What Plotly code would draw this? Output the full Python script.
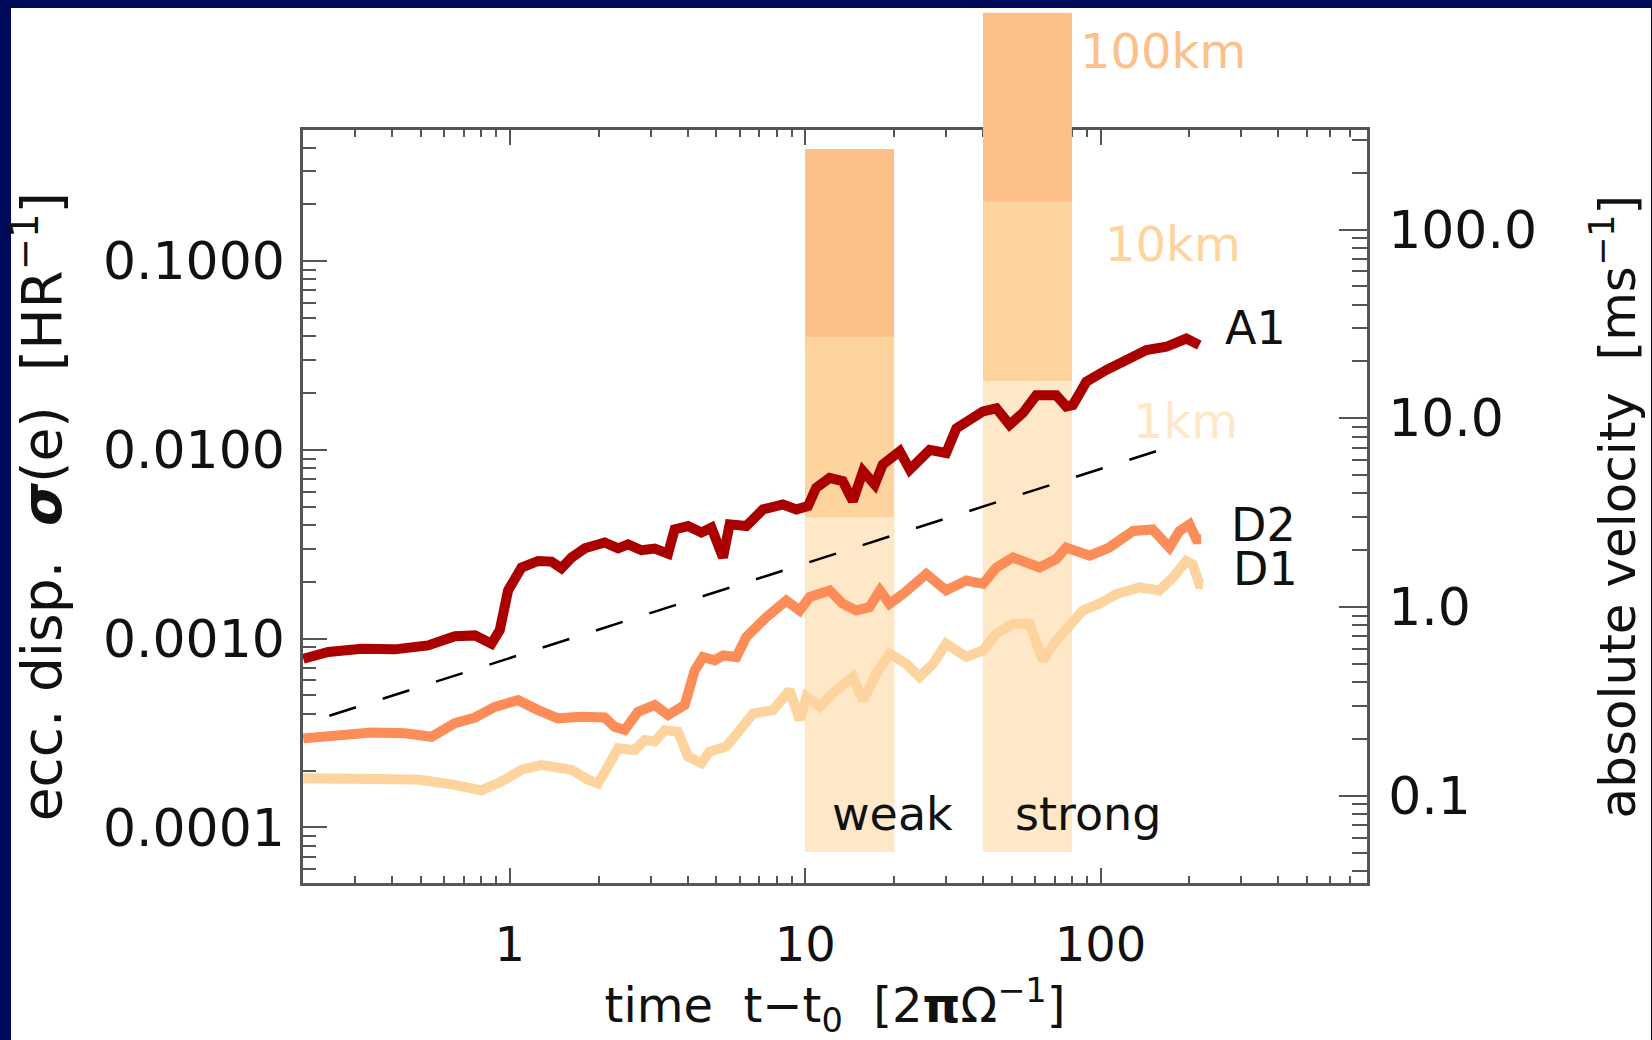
import math
import plotly.graph_objects as go

# ---------------- data ----------------
t_A1 = [0.2, 0.243, 0.315, 0.408, 0.529, 0.652, 0.762, 0.867, 0.925, 0.987, 1.096, 1.247,
        1.384, 1.496, 1.618, 1.795, 2.096, 2.326, 2.515, 2.791, 3.095, 3.434, 3.615, 4.012,
        4.454, 4.816, 5.27, 5.55, 6.32, 7.20, 8.41, 9.34, 10.22, 10.9, 12.1, 13.4, 14.5,
        15.7, 17.2, 18.3, 20.9, 22.6, 26.4, 30.0, 32.5, 37.0, 40.0, 44.4, 49.2, 54.6, 60.6,
        70.8, 76.5, 80.6, 89.5, 104.5, 122, 143, 167, 195, 216]
e_A1 = [7.82e-4, 8.49e-4, 8.83e-4, 8.77e-4, 9.2e-4, 1.03e-3, 1.04e-3, 9.39e-4, 1.11e-3,
        1.80e-3, 2.38e-3, 2.58e-3, 2.56e-3, 2.36e-3, 2.69e-3, 3.01e-3, 3.23e-3, 3.01e-3,
        3.16e-3, 2.94e-3, 3.00e-3, 2.82e-3, 3.79e-3, 3.95e-3, 3.65e-3, 3.87e-3, 2.69e-3,
        4.03e-3, 3.95e-3, 4.84e-3, 5.14e-3, 4.84e-3, 5.04e-3, 6.30e-3, 7.11e-3, 6.83e-3,
        5.36e-3, 7.71e-3, 6.55e-3, 8.36e-3, 9.84e-3, 7.87e-3, 1.00e-2, 9.63e-3, 1.30e-2,
        1.47e-2, 1.60e-2, 1.66e-2, 1.36e-2, 1.57e-2, 1.95e-2, 1.95e-2, 1.70e-2, 1.73e-2,
        2.30e-2, 2.65e-2, 2.99e-2, 3.38e-2, 3.52e-2, 3.89e-2, 3.59e-2]

t_D2 = [0.2, 0.256, 0.340, 0.441, 0.543, 0.652, 0.762, 0.890, 1.067, 1.247, 1.457, 1.748,
        2.096, 2.266, 2.449, 2.718, 3.095, 3.434, 3.91, 4.23, 4.51, 4.94, 5.27, 5.85, 6.32,
        7.39, 8.63, 9.58, 10.36, 12.1, 13.4, 14.9, 16.5, 17.9, 19.3, 21.4, 25.7, 30.0, 35.1,
        40.0, 44.4, 50.5, 62.2, 70.8, 76.5, 91.8, 107, 129, 150, 171, 185, 200, 211, 219]
e_D2 = [2.96e-4, 3.02e-4, 3.18e-4, 3.15e-4, 3.02e-4, 3.56e-4, 3.82e-4, 4.35e-4, 4.72e-4,
        4.18e-4, 3.78e-4, 3.85e-4, 3.82e-4, 3.41e-4, 3.28e-4, 4.09e-4, 4.45e-4, 3.94e-4,
        4.45e-4, 6.79e-4, 7.99e-4, 7.67e-4, 8.15e-4, 7.99e-4, 1.02e-3, 1.30e-3, 1.59e-3,
        1.41e-3, 1.66e-3, 1.80e-3, 1.53e-3, 1.41e-3, 1.47e-3, 1.80e-3, 1.53e-3, 1.72e-3,
        2.20e-3, 1.80e-3, 2.03e-3, 1.95e-3, 2.38e-3, 2.69e-3, 2.38e-3, 2.64e-3, 3.04e-3,
        2.75e-3, 3.04e-3, 3.72e-3, 3.79e-3, 3.04e-3, 3.72e-3, 4.03e-3, 3.36e-3, 3.36e-3]

t_D1 = [0.2, 0.315, 0.489, 0.652, 0.802, 0.937, 1.096, 1.28, 1.618, 1.84, 1.99, 2.15, 2.326,
        2.65, 2.86, 3.095, 3.35, 3.71, 4.01, 4.454, 4.75, 5.41, 6.0, 6.66, 7.78, 8.86, 9.58,
        10.1, 11.2, 12.4, 14.5, 15.7, 17.4, 19.3, 22.0, 24.4, 27.1, 30.0, 35.1, 40.0, 44.4,
        50.5, 57.5, 63.8, 70.8, 78.5, 87.1, 99.2, 113, 135.5, 158, 176, 195, 205, 216, 222]
e_D1 = [1.82e-4, 1.81e-4, 1.79e-4, 1.68e-4, 1.57e-4, 1.75e-4, 2.02e-4, 2.14e-4, 2.02e-4,
        1.79e-4, 1.71e-4, 2.10e-4, 2.62e-4, 2.57e-4, 2.90e-4, 2.85e-4, 3.28e-4, 3.21e-4,
        2.37e-4, 2.19e-4, 2.52e-4, 2.68e-4, 3.28e-4, 4.01e-4, 4.18e-4, 5.33e-4, 3.71e-4,
        4.91e-4, 4.35e-4, 5.12e-4, 6.27e-4, 4.72e-4, 6.52e-4, 8.32e-4, 7.36e-4, 6.27e-4,
        7.36e-4, 9.39e-4, 7.99e-4, 8.67e-4, 1.06e-3, 1.20e-3, 1.20e-3, 7.67e-4, 9.78e-4,
        1.15e-3, 1.41e-3, 1.53e-3, 1.72e-3, 1.87e-3, 1.80e-3, 2.11e-3, 2.58e-3, 2.48e-3,
        1.95e-3, 1.95e-3]

# dashed reference line (end points)
t_ref = [0.245, 172]
e_ref = [3.9e-4, 1.04e-2]

# shaded stirring bands: time interval, bottom, and tops for 1km / 10km / 100km
band_names = ["weak", "strong"]
band_t = [(10, 20), (40, 80)]
band_bottom = 7.4e-5
band_tops = [[4.4e-3, 0.0398, 0.393],      # weak
             [0.0232, 0.207, 2.07]]        # strong
size_labels = ["1km", "10km", "100km"]

# conversion of eccentricity dispersion to velocity [m/s]
VK = 680.0

# axis ranges (log10)
X_RANGE = [-0.70, 2.902]
Y_RANGE = [-4.295, -0.307]

# ---------------- styling ----------------
NAVY = "#01095a"
C_A1, C_D2, C_D1 = "#aa0000", "#fc8d59", "#fdd49e"
BAND_COLORS = ["#fee8c8", "#fdd49e", "#fdc088"]
FONT = "DejaVu Sans"
FS = 48
AX = "#555555"

W, H = 1652, 1040
ML, MR, MT, MB = 303, 285, 0, 153
plot_h = H - MT - MB
plot_w = W - ML - MR
box_top_px = 131
D1 = (plot_h - box_top_px) / plot_h          # top of the framed box in paper units
Y3_TOP = Y_RANGE[0] + (Y_RANGE[1] - Y_RANGE[0]) / D1

fig = go.Figure()

# bands (on tall overlay axis so they may rise above the frame)
for (t0, t1), tops in zip(band_t, band_tops):
    for top, col in sorted(zip(tops, BAND_COLORS), key=lambda p: -p[0]):
        fig.add_trace(go.Scatter(
            x=[t0, t1, t1, t0, t0], y=[band_bottom, band_bottom, top, top, band_bottom],
            mode="lines", fill="toself", fillcolor=col, line=dict(width=0, color=col),
            xaxis="x", yaxis="y3", hoverinfo="skip", showlegend=False))

# dashed reference
fig.add_trace(go.Scatter(x=t_ref, y=e_ref, mode="lines", xaxis="x", yaxis="y3",
                         line=dict(color="black", width=2.5, dash="28px,28px"),
                         showlegend=False, hoverinfo="skip"))

for name, t, e, c in [("D1", t_D1, e_D1, C_D1), ("D2", t_D2, e_D2, C_D2), ("A1", t_A1, e_A1, C_A1)]:
    fig.add_trace(go.Scatter(x=t, y=e, name=name, mode="lines", xaxis="x", yaxis="y3",
                             line=dict(color=c, width=10), showlegend=False))

# invisible carriers for the framed axes
fig.add_trace(go.Scatter(x=[t_A1[0]], y=[e_A1[0]], mode="markers", marker=dict(opacity=0),
                         xaxis="x", yaxis="y", showlegend=False, hoverinfo="skip"))
fig.add_trace(go.Scatter(x=[t_A1[0]], y=[e_A1[0] * VK], mode="markers", marker=dict(opacity=0),
                         xaxis="x", yaxis="y2", showlegend=False, hoverinfo="skip"))


def minor_vals(lo, hi):
    return [k * 10 ** n for n in range(lo, hi) for k in range(2, 10)]


xtickfont = dict(family=FONT, size=48, color="#111111")
ytickfont = dict(family=FONT, size=52, color="#111111")

fig.update_layout(
    width=W, height=H,
    margin=dict(l=ML, r=MR, t=MT, b=MB, pad=0),
    paper_bgcolor=NAVY, plot_bgcolor="rgba(0,0,0,0)",
    font=dict(family=FONT, size=FS, color="#111111"),
    showlegend=False,
    xaxis=dict(type="log", range=X_RANGE, domain=[0, 1], anchor="y",
               showline=True, linecolor=AX, linewidth=2.5, mirror="ticks",
               ticks="inside", ticklen=15, tickwidth=2, tickcolor=AX,
               tickmode="array", tickvals=[1, 10, 100], ticktext=["1", "10", "100"],
               ticklabelstandoff=18, tickfont=xtickfont,
               minor=dict(ticks="inside", ticklen=7, tickwidth=2, tickcolor=AX,
                          tickmode="array", tickvals=minor_vals(-1, 3), showgrid=False),
               showgrid=False, zeroline=False,
               title=dict(text="time  t\u2212t<sub>0</sub>  [2<b>\u03c0</b>\u03a9<sup>\u22121</sup>]",
                          font=dict(family=FONT, size=48), standoff=34)),
    yaxis=dict(type="log", range=Y_RANGE, domain=[0, D1], anchor="x",
               showline=True, linecolor=AX, linewidth=2.5,
               ticks="inside", ticklen=24, tickwidth=2, tickcolor=AX,
               tickmode="array", tickvals=[1e-4, 1e-3, 1e-2, 1e-1],
               ticktext=["0.0001", "0.0010", "0.0100", "0.1000"],
               ticklabelstandoff=5, tickfont=ytickfont,
               minor=dict(ticks="inside", ticklen=13, tickwidth=2, tickcolor=AX,
                          tickmode="array", tickvals=minor_vals(-5, 0), showgrid=False),
               showgrid=False, zeroline=False,
               title=dict(text="ecc. disp.  <b><i>\u03c3</i></b>(e)  [HR<sup>\u22121</sup>]",
                          font=dict(family=FONT, size=55), standoff=24)),
    yaxis2=dict(type="log", range=[Y_RANGE[0] + math.log10(VK), Y_RANGE[1] + math.log10(VK)],
                overlaying="y", side="right", anchor="x",
                showline=True, linecolor=AX, linewidth=2.5,
                ticks="inside", ticklen=28, tickwidth=2, tickcolor=AX,
                tickmode="array", tickvals=[0.1, 1, 10, 100],
                ticktext=["0.1", "1.0", "10.0", "100.0"],
                ticklabelstandoff=8, tickfont=ytickfont,
                minor=dict(ticks="inside", ticklen=15, tickwidth=2, tickcolor=AX,
                           tickmode="array", tickvals=minor_vals(-2, 3), showgrid=False),
                showgrid=False, zeroline=False,
                title=dict(text="absolute velocity  [ms<sup>\u22121</sup>]",
                           font=dict(family=FONT, size=50), standoff=64)),
    yaxis3=dict(type="log", range=[Y_RANGE[0], Y3_TOP], domain=[0, 1], anchor="x",
                visible=False, showgrid=False, zeroline=False),
)

# white panel inside the navy frame
fig.add_shape(type="rect", xref="paper", yref="paper", layer="below",
              x0=(11 - ML) / plot_w, x1=(W - 1 - ML) / plot_w,
              y0=-(MB + 5) / plot_h, y1=(plot_h - 8) / plot_h,
              fillcolor="white", line=dict(width=0))

# curve labels
for txt, tx, ey in [("A1", 259, 0.044), ("D2", 273, 4.02e-3), ("D1", 276, 2.33e-3)]:
    fig.add_annotation(x=math.log10(tx), y=math.log10(ey), xref="x", yref="y3", text=txt,
                       showarrow=False, xanchor="left", yanchor="middle",
                       font=dict(family=FONT, size=46, color="#111111"))

# band size labels
for txt, tx, ey, col in [("100km", 83.6, 1.30, BAND_COLORS[2]),
                         ("10km", 101.6, 0.124, BAND_COLORS[1]),
                         ("1km", 127, 0.0142, BAND_COLORS[0])]:
    fig.add_annotation(x=math.log10(tx), y=math.log10(ey), xref="x", yref="y3", text=txt,
                       showarrow=False, xanchor="left", yanchor="middle",
                       font=dict(family=FONT, size=48, color=col))

# band names
for txt, tx in [("weak", 19.8), ("strong", 91)]:
    fig.add_annotation(x=math.log10(tx), y=math.log10(1.17e-4), xref="x", yref="y3", text=txt,
                       showarrow=False, xanchor="center", yanchor="middle",
                       font=dict(family=FONT, size=46, color="#111111"))

fig.write_html("out.html")
